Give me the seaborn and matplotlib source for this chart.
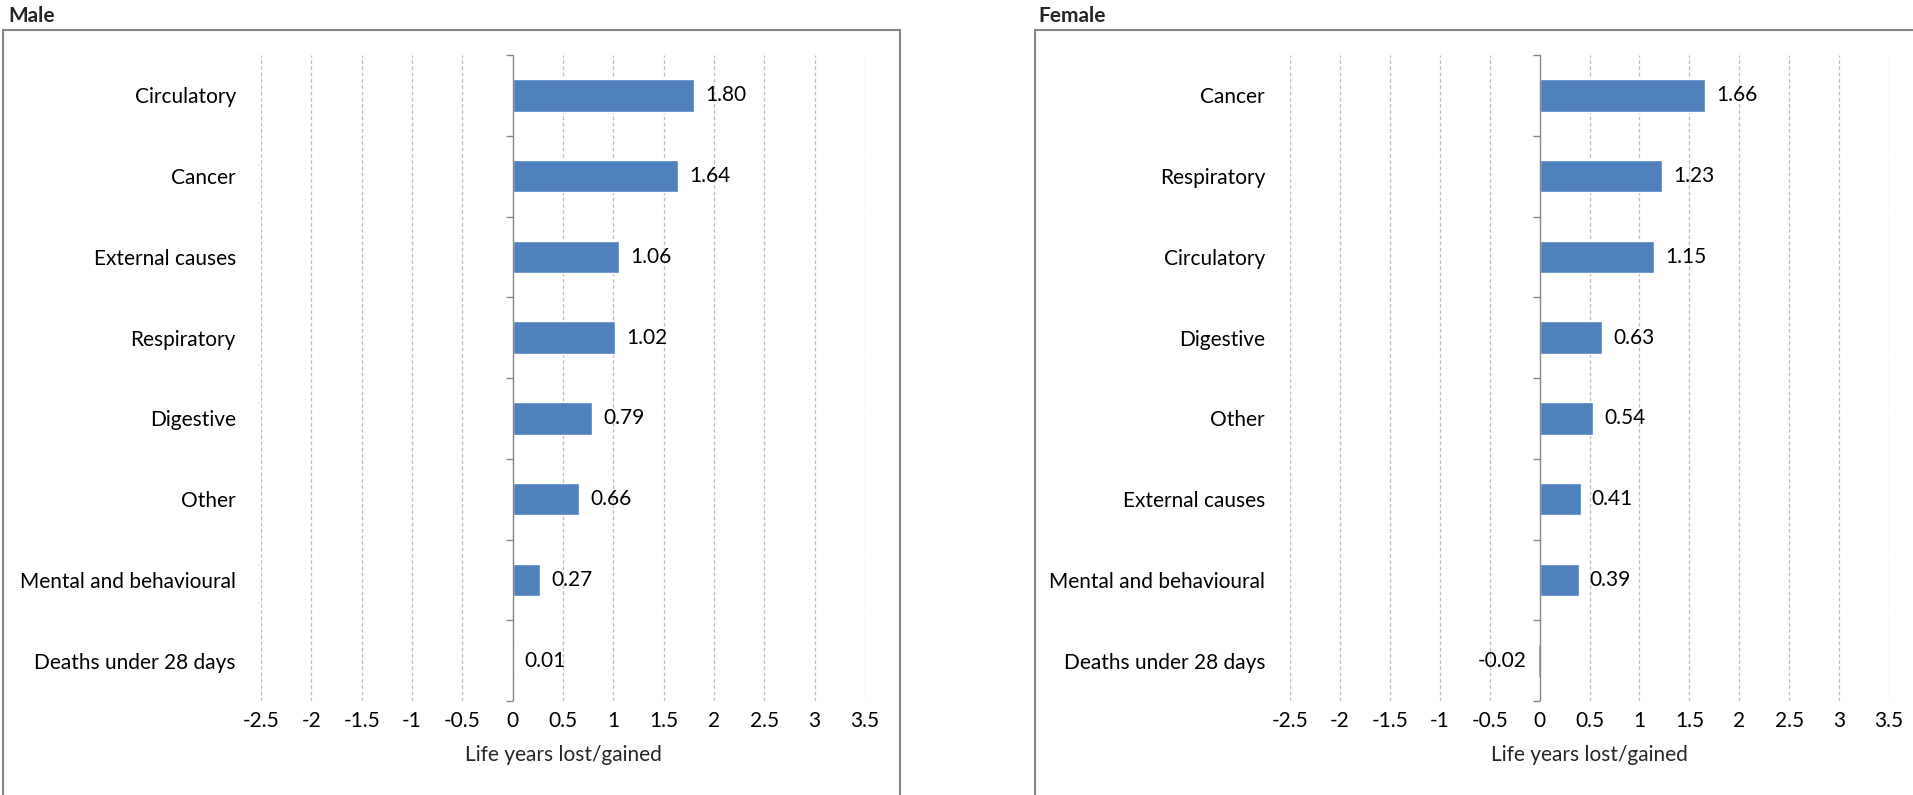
import matplotlib
matplotlib.use("Agg")
import matplotlib.pyplot as plt
import matplotlib.ticker as mticker
from matplotlib.patches import Rectangle
import numpy as np
import pandas as pd
import seaborn as sns

# data
male_causes = ["Circulatory", "Cancer", "External causes", "Respiratory", "Digestive",
               "Other", "Mental and behavioural", "Deaths under 28 days"]
male_values = [1.80, 1.64, 1.06, 1.02, 0.79, 0.66, 0.27, 0.01]

female_causes = ["Cancer", "Respiratory", "Circulatory", "Digestive", "Other",
                 "External causes", "Mental and behavioural", "Deaths under 28 days"]
female_values = [1.66, 1.23, 1.15, 0.63, 0.54, 0.41, 0.39, -0.02]

x_ticks = np.arange(-2.5, 3.51, 0.5)
x_min, x_max = -2.5, 3.5

BAR_COLOR = "#4F81BD"
AXIS_GRAY = "#868686"
GRID_GRAY = "#BFBFBF"
FS = 15

sns.set_theme(style="white")
plt.rcParams["font.family"] = ["Lato", "DejaVu Sans"]

W, H = 1913, 795
fig = plt.figure(figsize=(W / 100, H / 100), dpi=100)


def px_axes(left, right, top, bottom):
    return fig.add_axes([left / W, 1 - bottom / H, (right - left) / W, (bottom - top) / H])


# Lager ett panel med horisontale stolper
def draw_panel(ax, causes, values):
    df = pd.DataFrame({"cause": causes, "value": values})
    sns.barplot(data=df, x="value", y="cause", orient="h", color=BAR_COLOR,
                saturation=1, width=0.4, ax=ax, errorbar=None)
    ax.bar_label(ax.containers[0], fmt="%.2f", padding=8, fontsize=FS, color="black")

    ax.set_xlim(x_min, x_max)
    ax.set_ylim(len(causes) - 0.5, -0.5)

    # dashed vertical gridlines, except at 0 where the axis sits
    for v in x_ticks:
        if abs(v) > 1e-9:
            ax.axvline(v, color=GRID_GRAY, lw=0.9, ls=(0, (3, 2)), zorder=0)
    ax.axvline(0, color=AXIS_GRAY, lw=1.0, zorder=3)

    for s in ax.spines.values():
        s.set_visible(False)

    ax.set_xticks(x_ticks)
    ax.xaxis.set_major_formatter(mticker.FuncFormatter(lambda v, p: f"{v:g}"))
    ax.tick_params(axis="x", length=0, pad=7.5, labelsize=FS, colors="black")
    ax.tick_params(axis="y", length=0, pad=18, labelsize=FS, colors="black")
    ax.set_xlabel("Life years lost/gained", fontsize=FS, labelpad=10)
    ax.set_ylabel("")

    # vertical axis at zero with small boundary ticks
    zero_frac = (0 - x_min) / (x_max - x_min)
    sec = ax.secondary_yaxis(zero_frac)
    sec.set_yticks(np.arange(-0.5, len(causes), 1.0))
    sec.set_yticklabels([])
    sec.tick_params(length=5, width=1.0, color=AXIS_GRAY, direction="out")
    for s in sec.spines.values():
        s.set_visible(False)


ax_m = px_axes(261, 865, 55, 701)
draw_panel(ax_m, male_causes, male_values)

ax_f = px_axes(1290, 1889, 55, 701)
draw_panel(ax_f, female_causes, female_values)

# chart area frames
fig.patches.append(Rectangle((3 / W, -0.1), (900 - 3) / W, 0.1 + 1 - 30 / H,
                             transform=fig.transFigure, fill=False,
                             edgecolor=AXIS_GRAY, lw=1.5, clip_on=False))
fig.patches.append(Rectangle((1035 / W, -0.1), 0.6, 0.1 + 1 - 30 / H,
                             transform=fig.transFigure, fill=False,
                             edgecolor=AXIS_GRAY, lw=1.5, clip_on=False))

fig.text(8 / W, 1 - 16 / H, "Male", fontsize=FS, fontweight="bold", va="center", ha="left")
fig.text(1038 / W, 1 - 16 / H, "Female", fontsize=FS, fontweight="bold", va="center", ha="left")

fig.savefig("out.png", dpi=100)
